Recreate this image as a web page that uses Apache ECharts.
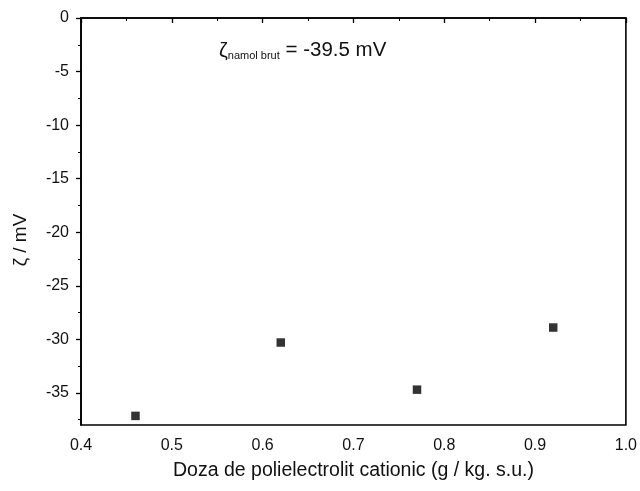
<!DOCTYPE html>
<html><head><meta charset="utf-8">
<script src="https://cdn.jsdelivr.net/npm/echarts@6/dist/echarts.min.js"></script>
<style>html,body{margin:0;padding:0;background:#fff}#c{width:640px;height:491px}</style>
</head><body><div id="c"></div>
<script>
var doseX = [0.46, 0.62, 0.77, 0.92];
var zetaY = [-37.15, -30.3, -34.7, -28.9];
var yTicks = [0, -5, -10, -15, -20, -25, -30, -35];
var yMinorTicks = [-2.5, -7.5, -12.5, -17.5, -22.5, -27.5, -32.5, -37.5];
var xTicks = [0.4, 0.5, 0.6, 0.7, 0.8, 0.9, 1.0];
var xMinorTicks = [0.45, 0.55, 0.65, 0.75, 0.85, 0.95];
var xTitle = 'Doza de polielectrolit cationic (g / kg. s.u.)';
var yTitle = 'ζ / mV';

var font = 'Liberation Sans, Arial, sans-serif';
var chart = echarts.init(document.getElementById('c'));
var axisLine = {show: true, lineStyle: {color: '#000', width: 1.6}};
chart.setOption({
  animation: false,
  grid: {left: 81, top: 18, right: 12, bottom: 66, show: true, borderColor: '#000', borderWidth: 1.6, backgroundColor: 'transparent'},
  xAxis: [{
    type: 'value', min: 0.4, max: 1.0, position: 'bottom',
    name: xTitle,
    nameLocation: 'middle', nameGap: 36,
    nameTextStyle: {fontFamily: font, fontSize: 19.5, color: '#111'},
    axisLine: axisLine,
    axisTick: {show: true, length: 5, customValues: xTicks, lineStyle: {color: '#000', width: 1.3}},
    axisLabel: {customValues: xTicks, fontFamily: font, fontSize: 16, color: '#111', margin: 13,
      formatter: function (v) { return v.toFixed(1); }},
    splitLine: {show: false}
  }, {
    type: 'value', min: 0.4, max: 1.0, position: 'bottom',
    axisLine: {show: false},
    axisTick: {show: true, length: 3, customValues: xMinorTicks, lineStyle: {color: '#000', width: 1}},
    axisLabel: {show: false}, splitLine: {show: false}
  }],
  yAxis: [{
    type: 'value', min: -38, max: 0, position: 'left',
    axisLine: axisLine,
    axisTick: {show: true, length: 5, customValues: yTicks, lineStyle: {color: '#000', width: 1.3}},
    axisLabel: {customValues: yTicks, fontFamily: font, fontSize: 16, color: '#111', margin: 12},
    splitLine: {show: false}
  }, {
    type: 'value', min: -38, max: 0, position: 'left',
    axisLine: {show: false},
    axisTick: {show: true, length: 3, customValues: yMinorTicks, lineStyle: {color: '#000', width: 1}},
    axisLabel: {show: false}, splitLine: {show: false}
  }],
  series: [{
    type: 'scatter', xAxisIndex: 0, yAxisIndex: 0,
    symbol: 'rect', symbolSize: 8.5,
    itemStyle: {color: '#000'},
    data: doseX.map(function (x, i) { return [x, zetaY[i]]; })
  }],
  graphic: [{
    type: 'text', x: 21, y: 240, rotation: Math.PI / 2,
    style: {text: yTitle, fontFamily: font, fontSize: 19, fill: '#111', align: 'center', verticalAlign: 'middle'}
  }, {
    type: 'text', left: 219, top: 40,
    style: {
      text: '{z|ζ}{s|namol brut}{t| = -39.5 mV}',
      rich: {
        z: {fontFamily: font, fontSize: 20, fill: '#111', verticalAlign: 'bottom'},
        s: {fontFamily: font, fontSize: 11, fill: '#111', padding: [8, 0, 0, 0], verticalAlign: 'bottom'},
        t: {fontFamily: font, fontSize: 20.5, fill: '#111', verticalAlign: 'bottom'}
      }
    }
  }]
});
</script></body></html>
